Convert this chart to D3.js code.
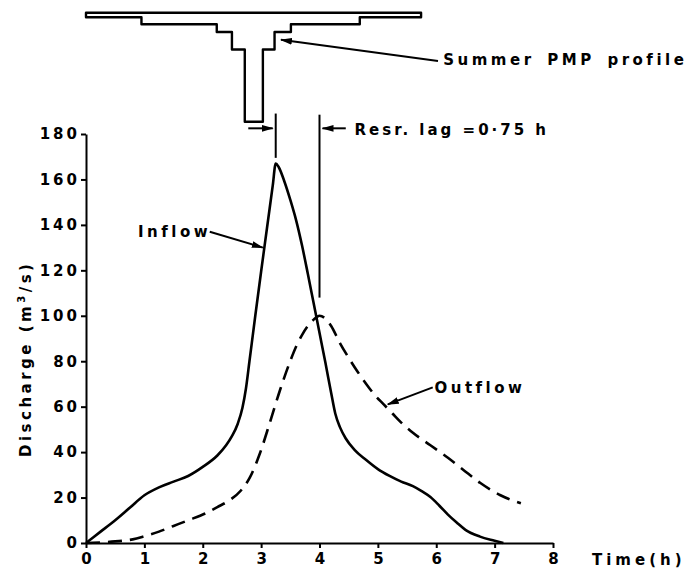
<!DOCTYPE html>
<html>
<head>
<meta charset="utf-8">
<script src="https://cdn.jsdelivr.net/npm/d3@7"></script>
<style>
  html, body { margin: 0; padding: 0; background: #fff; }
  svg { display: block; }
  text { font-family: "DejaVu Sans", "Liberation Sans", sans-serif; font-weight: bold; fill: #000; }
</style>
</head>
<body>
<svg id="chart" width="690" height="571"></svg>
<script>
// Axis ticks
const timeTicks = [0, 1, 2, 3, 4, 5, 6, 7, 8];
const dischargeTicks = [0, 20, 40, 60, 80, 100, 120, 140, 160, 180];

// Reservoir inflow hydrograph (h, m3/s)
const inflowTime = [0, 0.25, 0.5, 0.75, 1, 1.25, 1.5, 1.75, 2, 2.25, 2.4, 2.5, 2.6, 2.68, 2.74, 2.8, 2.84, 2.9, 3, 3.1, 3.2, 3.25,
  3.3, 3.4, 3.5, 3.6, 3.7, 3.8, 3.9, 4, 4.1, 4.2, 4.27, 4.35, 4.45, 4.6, 4.8, 5, 5.2, 5.4, 5.6, 5.75, 5.9, 6.05, 6.2, 6.35, 6.5, 6.75, 7, 7.15];
const inflowQ = [0, 5, 10, 15.5, 21, 24.5, 27, 29.5, 33.5, 38.5, 43, 47, 52.5, 59.5, 68, 80, 88, 100, 119.5, 138.5, 157.5, 167,
  165.5, 159, 151, 142, 131, 118.5, 105.5, 92.5, 79.5, 66, 57, 51, 46, 41, 36.5, 32.5, 29.5, 27, 25, 22.8, 20.2, 16.5, 12.5, 9, 5.8, 2.8, 1, 0];

// Routed outflow hydrograph (h, m3/s)
const outflowTime = [0, 0.5, 0.8, 1, 1.25, 1.5, 1.75, 2.04, 2.25, 2.47, 2.65, 2.81, 2.98, 3.15, 3.32, 3.49, 3.6, 3.7, 3.8, 3.9, 4,
  4.1, 4.2, 4.35, 4.5, 4.65, 4.8, 4.95, 5.1, 5.25, 5.4, 5.6, 5.9, 6.2, 6.45, 6.75, 7.1, 7.45];
const outflowQ = [0, 0.7, 1.6, 3, 5, 7.5, 10, 13, 15.8, 19, 23, 29, 39.5, 53, 67, 79.5, 86.5, 91.5, 95.5, 98.3, 100,
  98.8, 95.5, 88, 81.5, 75.5, 70, 65, 61, 57, 53, 48.5, 43, 37.5, 32.5, 26.5, 21, 17.5];

// Summer PMP rainfall profile: block boundaries (h) and relative intensity of each block
const pmpBreaks = [0, 0.95, 2.24, 2.5, 2.72, 3.03, 3.23, 3.51, 4.69, 5.74];
const pmpIntensity = [1, 2.5, 4.2, 8, 23.7, 8, 4.2, 2.5, 1];

// Time markers: inflow peak and outflow peak (h), giving the reservoir lag
const inflowPeakTime = 3.25;
const outflowPeakTime = 4.0;

const svg = d3.select("#chart");

const x = d3.scaleLinear().domain([0, 8]).range([86, 553]);
const y = d3.scaleLinear().domain([0, 180]).range([543, 134]);
const yRain = d3.scaleLinear().domain([0, 23.7]).range([12.7, 121.7]);

// arrowhead
svg.append("defs").append("marker")
  .attr("id", "arrow")
  .attr("markerUnits", "userSpaceOnUse")
  .attr("markerWidth", 12).attr("markerHeight", 8)
  .attr("refX", 11).attr("refY", 4)
  .attr("orient", "auto")
  .append("path")
  .attr("d", "M0,0.6 L12,4 L0,7.4 Z")
  .attr("fill", "#000");

// ---- axes ----
const xAxis = svg.append("g")
  .attr("transform", `translate(0,${y(0)})`)
  .call(d3.axisBottom(x).tickValues(timeTicks).tickFormat(d3.format("d"))
    .tickSize(5).tickSizeOuter(0).tickPadding(5));
const yAxis = svg.append("g")
  .attr("transform", `translate(${x(0)},0)`)
  .call(d3.axisLeft(y).tickValues(dischargeTicks).tickFormat(d3.format("d"))
    .tickSize(5).tickSizeOuter(0).tickPadding(4));

[xAxis, yAxis].forEach(g => {
  g.select(".domain").attr("stroke", "#000").attr("stroke-width", 2);
  g.selectAll(".tick line").attr("stroke", "#000").attr("stroke-width", 2);
  g.selectAll(".tick text")
    .style("font-family", '"DejaVu Sans", sans-serif')
    .style("font-weight", "bold")
    .attr("font-size", 15)
    .attr("fill", "#000");
});
yAxis.selectAll(".tick text").style("letter-spacing", "3px").attr("dx", "3px");

// axis titles
svg.append("text")
  .attr("transform", `translate(31,${y(0) - 86}) rotate(-90)`)
  .attr("font-size", 15)
  .style("letter-spacing", "3.5px")
  .call(t => {
    t.append("tspan").text("Discharge  (m");
    t.append("tspan").attr("font-size", 10).attr("dy", -6).text("3");
    t.append("tspan").attr("dy", 6).text("/s)");
  });

svg.append("text")
  .attr("x", 592).attr("y", 565)
  .attr("font-size", 15)
  .style("letter-spacing", "4px")
  .text("Time(h)");

// ---- hydrographs ----
const line = d3.line()
  .x(d => x(d[0]))
  .y(d => y(d[1]))
  .curve(d3.curveMonotoneX);

svg.append("path")
  .datum(d3.zip(inflowTime, inflowQ))
  .attr("d", line)
  .attr("fill", "none")
  .attr("stroke", "#000")
  .attr("stroke-width", 2.6)
  .attr("stroke-linejoin", "round");

svg.append("path")
  .datum(d3.zip(outflowTime, outflowQ))
  .attr("d", line)
  .attr("fill", "none")
  .attr("stroke", "#000")
  .attr("stroke-width", 2.6)
  .attr("stroke-dasharray", "14,8");

// ---- rainfall profile (hanging blocks) ----
const pmpOutline = [[pmpBreaks[0], 0], [pmpBreaks[pmpBreaks.length - 1], 0]];
for (let i = pmpIntensity.length - 1; i >= 0; i--) {
  pmpOutline.push([pmpBreaks[i + 1], pmpIntensity[i]]);
  pmpOutline.push([pmpBreaks[i], pmpIntensity[i]]);
}
svg.append("path")
  .datum(pmpOutline)
  .attr("d", d3.line().x(d => x(d[0])).y(d => yRain(d[1])).curve(d3.curveLinearClosed))
  .attr("fill", "none")
  .attr("stroke", "#000")
  .attr("stroke-width", 2.4)
  .attr("stroke-linejoin", "round");

// ---- annotations ----
function arrow(x1, y1, x2, y2) {
  svg.append("line")
    .attr("x1", x1).attr("y1", y1).attr("x2", x2).attr("y2", y2)
    .attr("stroke", "#000").attr("stroke-width", 2)
    .attr("marker-end", "url(#arrow)");
}
function label(px, py, txt, spacing = 3.5, words = 4) {
  svg.append("text")
    .attr("x", px).attr("y", py)
    .attr("font-size", 15)
    .style("letter-spacing", spacing + "px")
    .style("word-spacing", words + "px")
    .text(txt);
}

// peak markers and lag
svg.append("line")
  .attr("x1", x(inflowPeakTime)).attr("x2", x(inflowPeakTime))
  .attr("y1", y(189)).attr("y2", y(169.5))
  .attr("stroke", "#000").attr("stroke-width", 2);
svg.append("line")
  .attr("x1", x(outflowPeakTime)).attr("x2", x(outflowPeakTime))
  .attr("y1", y(188.5)).attr("y2", y(108))
  .attr("stroke", "#000").attr("stroke-width", 2);
arrow(x(2.78), y(182.5), x(inflowPeakTime) - 3, y(182.5));
arrow(x(4.45), y(182.5), x(outflowPeakTime) + 3, y(182.5));
label(x(4.6), y(179.6), "Resr. lag =0·75 h", 3, 0);

// Inflow / Outflow labels
label(x(0.89), y(134.5), "Inflow");
arrow(x(2.12), y(137), x(3.03), y(130));
label(x(5.97), y(66), "Outflow");
arrow(x(5.94), y(68.5), x(5.17), y(61));

// PMP profile label
arrow(x(6.03), yRain(10.5), x(3.34), yRain(5.9));
label(x(6.12), yRain(11.4), "Summer PMP profile");
</script>
</body>
</html>
